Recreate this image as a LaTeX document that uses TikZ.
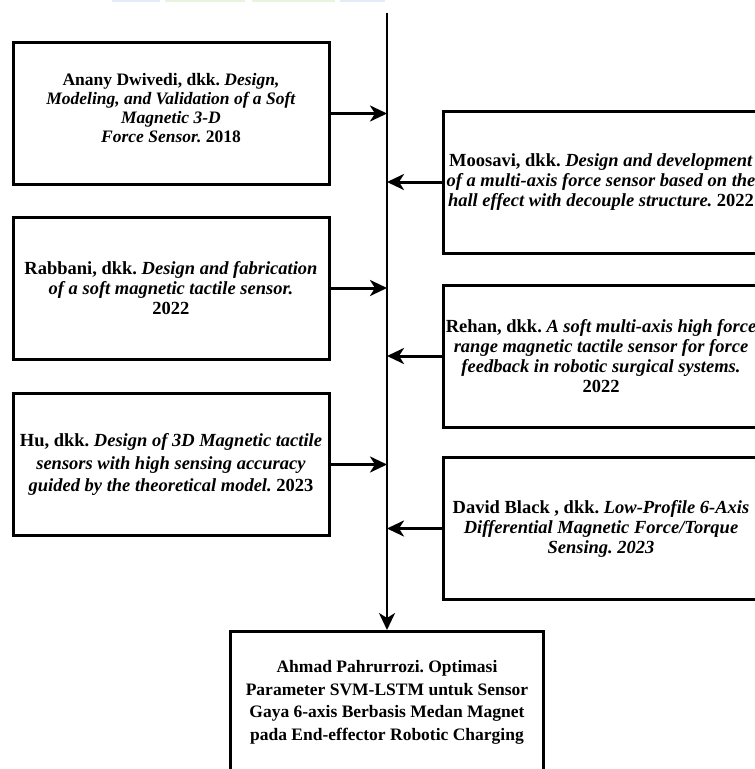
\documentclass[tikz,border=0pt]{standalone}
\usepackage{fontspec}
\setmainfont{Liberation Serif}
\usetikzlibrary{arrows.meta}
\frenchspacing
\tikzset{
  refbox/.style={draw=black, line width=3pt, fill=white, minimum width=316pt, minimum height=142pt,
    align=center, inner sep=1pt, font=\fontsize{18.5}{20}\selectfont\bfseries},
  link/.style={line width=3pt, -{Stealth[length=17pt,width=16pt,inset=5pt]}},
  spine/.style={line width=2.5pt, -{Stealth[length=17pt,width=16pt,inset=5pt]}}
}
\definecolor{barblue}{RGB}{225,236,248}
\definecolor{bargreen}{RGB}{232,244,224}
\begin{document}
\begin{tikzpicture}[x=1pt,y=-1pt]
\useasboundingbox (0,0) rectangle (755,769);
\clip (0,0) rectangle (755,769);
% faint header remnants
\fill[barblue] (112,0) rectangle (160,1.5);
\fill[bargreen] (165,0) rectangle (245,1.5);
\fill[bargreen] (252,0) rectangle (335,1.5);
\fill[barblue] (340,0) rectangle (385,1.5);

\coordinate (top) at (387,13);

\node[refbox, font=\fontsize{17.5}{19}\selectfont\bfseries] (L1) at (171,113.5) {Anany Dwivedi, dkk. \textit{Design,}\\ \textit{Modeling, and Validation of a Soft}\\ \textit{Magnetic 3-D}\\ \textit{Force Sensor.} 2018\\[-8pt]\mbox{}};
\node[refbox] (L2) at (171,288) {Rabbani, dkk. \textit{Design and fabrication}\\ \textit{of a soft magnetic tactile sensor.}\\ 2022};
\node[refbox, font=\fontsize{18.5}{22.5}\selectfont\bfseries] (L3) at (171,464.5) {Hu, dkk. \textit{Design of 3D Magnetic tactile}\\ \textit{sensors with high sensing accuracy}\\ \textit{guided by the theoretical model.} 2023};

\node[refbox] (R1) at (601,182) {Moosavi, dkk. \textit{Design and development}\\ \textit{of a multi-axis force sensor based on the}\\ \textit{hall effect with decouple structure.} 2022};
\node[refbox] (R2) at (601,356) {Rehan, dkk. \textit{A soft multi-axis high force}\\ \textit{range magnetic tactile sensor for force}\\ \textit{feedback in robotic surgical systems.}\\ 2022};
\node[refbox] (R3) at (601,528.5) {David Black , dkk. \textit{Low-Profile 6-Axis}\\ \textit{Differential Magnetic Force/Torque}\\ \textit{Sensing. 2023}};

\node[refbox, minimum width=313pt, minimum height=160pt, anchor=north, font=\fontsize{17.5}{22.5}\selectfont\bfseries] (B) at (387,630) {Ahmad Pahrurrozi. Optimasi\\ Parameter SVM-LSTM untuk Sensor\\ Gaya 6-axis Berbasis Medan Magnet\\ pada End-effector Robotic Charging\\[0pt]\mbox{}};

\draw[spine] (top) -- (B.north);
\draw[link] (L1.east) -- (L1.east -| top);
\draw[link] (L2.east) -- (L2.east -| top);
\draw[link] (L3.east) -- (L3.east -| top);
\draw[link] (R1.west) -- (R1.west -| top);
\draw[link] (R2.west) -- (R2.west -| top);
\draw[link] (R3.west) -- (R3.west -| top);
\end{tikzpicture}
\end{document}
